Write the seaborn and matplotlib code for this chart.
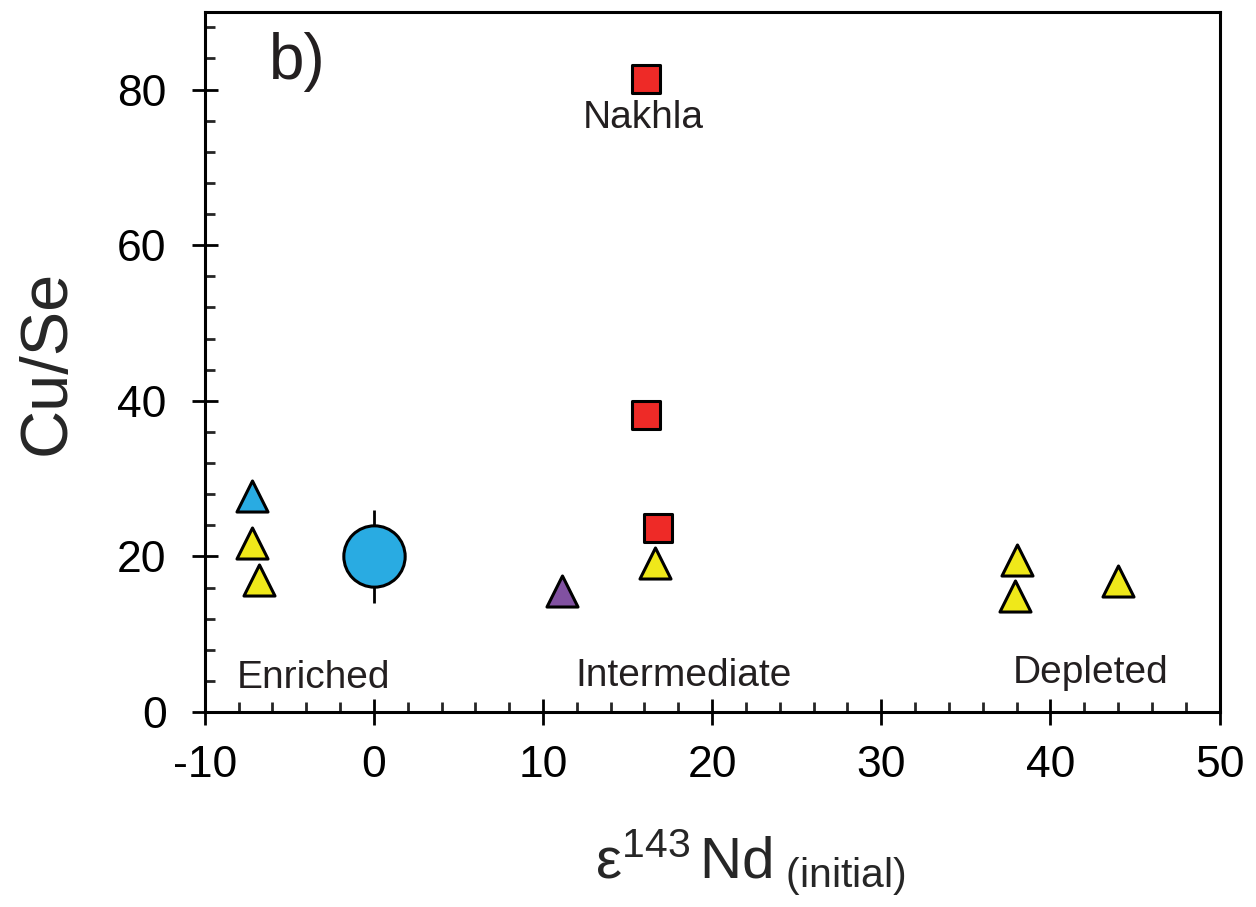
import numpy as np
import pandas as pd
import matplotlib
matplotlib.use("Agg")
import matplotlib.pyplot as plt
from matplotlib.ticker import MultipleLocator
import seaborn as sns

# ==============================
# DATA
# ==============================

blue_tri_x = [-7.2]
blue_tri_y = [27.8]

yellow_x = [-7.2, -6.8, 16.6, 38.0, 37.9, 44.0]
yellow_y = [21.7, 17.0, 19.1, 19.5, 14.9, 16.8]

purple_x = [11.1]
purple_y = [15.5]

red_x = [16.1, 16.1, 16.8]
red_y = [81.4, 38.2, 23.7]

circle_x = [0.0]
circle_y = [20.0]
circle_err = [6.0]

group_labels = ["Enriched", "Intermediate", "Depleted"]
group_label_x = [-8.1, 11.9, 37.75]
group_label_y = [3.1, 3.3, 3.7]

# ==============================
# STYLE
# ==============================

sns.set_theme(style="ticks")
plt.rcParams["font.family"] = ["Liberation Sans", "DejaVu Sans"]
plt.rcParams["mathtext.fontset"] = "custom"
plt.rcParams["mathtext.rm"] = "Liberation Sans"
plt.rcParams["mathtext.it"] = "Liberation Sans"
plt.rcParams["axes.unicode_minus"] = False

BLUE = "#29abe2"
YELLOW = "#efe81a"
RED = "#ee2a27"
PURPLE = "#8151a1"
TXT = "#231f20"

fig, ax = plt.subplots(figsize=(12.56, 9.07), dpi=100)
fig.subplots_adjust(left=0.163, right=0.971, bottom=0.215, top=0.987)

# error bar behind the big circle
ax.errorbar(circle_x, circle_y, yerr=circle_err, fmt="none", ecolor="black",
            elinewidth=2, capsize=0, zorder=1)

df_circle = pd.DataFrame({"x": circle_x, "y": circle_y})
sns.scatterplot(data=df_circle, x="x", y="y", ax=ax, marker="o", s=1950,
                color=BLUE, edgecolor="black", linewidth=2.2, zorder=2)

df_yel = pd.DataFrame({"x": yellow_x, "y": yellow_y})
sns.scatterplot(data=df_yel, x="x", y="y", ax=ax, marker="^", s=500,
                color=YELLOW, edgecolor="black", linewidth=2.2, zorder=3)

df_blue = pd.DataFrame({"x": blue_tri_x, "y": blue_tri_y})
sns.scatterplot(data=df_blue, x="x", y="y", ax=ax, marker="^", s=500,
                color=BLUE, edgecolor="black", linewidth=2.2, zorder=3)

df_pur = pd.DataFrame({"x": purple_x, "y": purple_y})
sns.scatterplot(data=df_pur, x="x", y="y", ax=ax, marker="^", s=500,
                color=PURPLE, edgecolor="black", linewidth=2.2, zorder=3)

df_red = pd.DataFrame({"x": red_x, "y": red_y})
sns.scatterplot(data=df_red, x="x", y="y", ax=ax, marker="s", s=420,
                color=RED, edgecolor="black", linewidth=2.2, zorder=3)

# ==============================
# TEXT
# ==============================

for lab, lx, ly in zip(group_labels, group_label_x, group_label_y):
    ax.text(lx, ly, lab, fontsize=28, color=TXT, ha="left", va="baseline")

ax.text(12.35, 75.1, "Nakhla", fontsize=28, color=TXT, ha="left", va="baseline")
ax.text(-6.2, 81.4, "b)", fontsize=46, color=TXT, ha="left", va="baseline")

# ==============================
# AXES
# ==============================

ax.set_xlim(-10, 50)
ax.set_ylim(0, 90)
ax.set_xticks(np.arange(-10, 51, 10))
ax.set_yticks(np.arange(0, 81, 20))
ax.xaxis.set_minor_locator(MultipleLocator(2))
ax.yaxis.set_minor_locator(MultipleLocator(4))

ax.tick_params(which="major", direction="inout", length=19, width=2,
               labelsize=32, colors="black", top=False, right=False)
ax.tick_params(axis="y", which="major", pad=18)
ax.tick_params(axis="x", which="major", pad=14)
ax.tick_params(which="minor", direction="in", length=7, width=2,
               top=False, right=False)

for sp in ax.spines.values():
    sp.set_linewidth(2.2)
    sp.set_color("black")

ax.set_ylabel("Cu/Se", fontsize=48, labelpad=28)
ax.set_xlabel(r"$\mathregular{\varepsilon^{143}\,Nd_{\ (initial)}}$", fontsize=42)
ax.xaxis.set_label_coords(0.538, -0.165)

plt.savefig("out.png", dpi=100)
